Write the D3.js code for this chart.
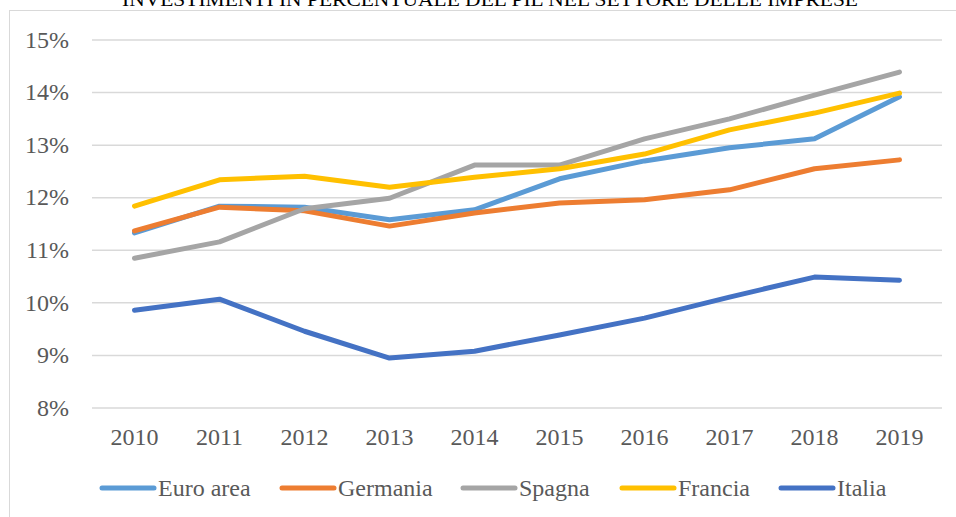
<!DOCTYPE html>
<html>
<head>
<meta charset="utf-8">
<script src="https://cdn.jsdelivr.net/npm/d3@7"></script>
</head>
<body style="margin:0; background:#fff">
<svg id="chart" width="956" height="517"></svg>
<script>
var titleText = "INVESTIMENTI IN PERCENTUALE DEL PIL NEL SETTORE DELLE IMPRESE";
var years = ["2010","2011","2012","2013","2014","2015","2016","2017","2018","2019"];
var yTicks = [8, 9, 10, 11, 12, 13, 14, 15];

var seriesNames = ["Euro area", "Germania", "Spagna", "Francia", "Italia"];
var seriesColors = ["#5B9BD5", "#ED7D31", "#A5A5A5", "#FFC000", "#4472C4"];

var euroArea = [11.33, 11.84, 11.82, 11.58, 11.77, 12.36, 12.70, 12.95, 13.12, 13.92];
var germania = [11.37, 11.82, 11.75, 11.46, 11.71, 11.90, 11.96, 12.15, 12.55, 12.72];
var spagna   = [10.85, 11.16, 11.79, 11.99, 12.62, 12.62, 13.12, 13.50, 13.95, 14.39];
var francia  = [11.84, 12.34, 12.41, 12.20, 12.39, 12.55, 12.83, 13.29, 13.61, 13.99];
var italia   = [9.86, 10.07, 9.46, 8.95, 9.08, 9.39, 9.71, 10.11, 10.49, 10.43];

var seriesValues = [euroArea, germania, spagna, francia, italia];

var serifFont = "'Liberation Serif', 'Times New Roman', serif";
var textColor = "#595959";

var svg = d3.select("#chart");

// outer chart border (only top and left visible in the crop)
svg.append("rect")
  .attr("x", 9.5).attr("y", 10.5)
  .attr("width", 960).attr("height", 540)
  .attr("fill", "none")
  .attr("stroke", "#D9D9D9")
  .attr("stroke-width", 1);

// title, partly cut off at the top as in the original
svg.append("text")
  .attr("x", 490).attr("y", 6)
  .attr("text-anchor", "middle")
  .attr("font-size", 18)
  .attr("textLength", 736)
  .attr("lengthAdjust", "spacingAndGlyphs")
  .style("font-family", serifFont)
  .attr("fill", "#000")
  .text(titleText);

var x = d3.scalePoint()
  .domain(years)
  .range([92, 942])
  .padding(0.5);

var y = d3.scaleLinear()
  .domain([8, 15])
  .range([408, 40]);

// gridlines
svg.append("g")
  .selectAll("line")
  .data(yTicks)
  .enter().append("line")
  .attr("x1", 92).attr("x2", 942)
  .attr("y1", function(d) { return y(d); })
  .attr("y2", function(d) { return y(d); })
  .attr("stroke", "#D9D9D9")
  .attr("stroke-width", 1.5);

// y labels
svg.append("g")
  .selectAll("text")
  .data(yTicks)
  .enter().append("text")
  .attr("x", 69)
  .attr("y", function(d) { return y(d); })
  .attr("dy", "0.32em")
  .attr("text-anchor", "end")
  .attr("font-size", 24)
  .style("font-family", serifFont)
  .attr("fill", textColor)
  .text(function(d) { return d + "%"; });

// x labels
svg.append("g")
  .selectAll("text")
  .data(years)
  .enter().append("text")
  .attr("x", function(d) { return x(d); })
  .attr("y", 445)
  .attr("text-anchor", "middle")
  .attr("font-size", 24)
  .style("font-family", serifFont)
  .attr("fill", textColor)
  .text(function(d) { return d; });

var line = d3.line()
  .x(function(d, i) { return x(years[i]); })
  .y(function(d) { return y(d); });

svg.append("g")
  .selectAll("path")
  .data(seriesValues)
  .enter().append("path")
  .attr("d", line)
  .attr("fill", "none")
  .attr("stroke", function(d, i) { return seriesColors[i]; })
  .attr("stroke-width", 5)
  .attr("stroke-linejoin", "round")
  .attr("stroke-linecap", "round");

// legend
var legendX = [100, 280, 461, 620, 779];
var legend = svg.append("g")
  .selectAll("g")
  .data(seriesNames)
  .enter().append("g")
  .attr("transform", function(d, i) { return "translate(" + legendX[i] + ",488)"; });

legend.append("line")
  .attr("x1", 2).attr("x2", 54)
  .attr("y1", 0).attr("y2", 0)
  .attr("stroke", function(d, i) { return seriesColors[i]; })
  .attr("stroke-width", 5)
  .attr("stroke-linecap", "round");

legend.append("text")
  .attr("x", 58)
  .attr("y", 0)
  .attr("dy", "0.32em")
  .attr("font-size", 24)
  .style("font-family", serifFont)
  .attr("fill", textColor)
  .text(function(d) { return d; });
</script>
</body>
</html>
